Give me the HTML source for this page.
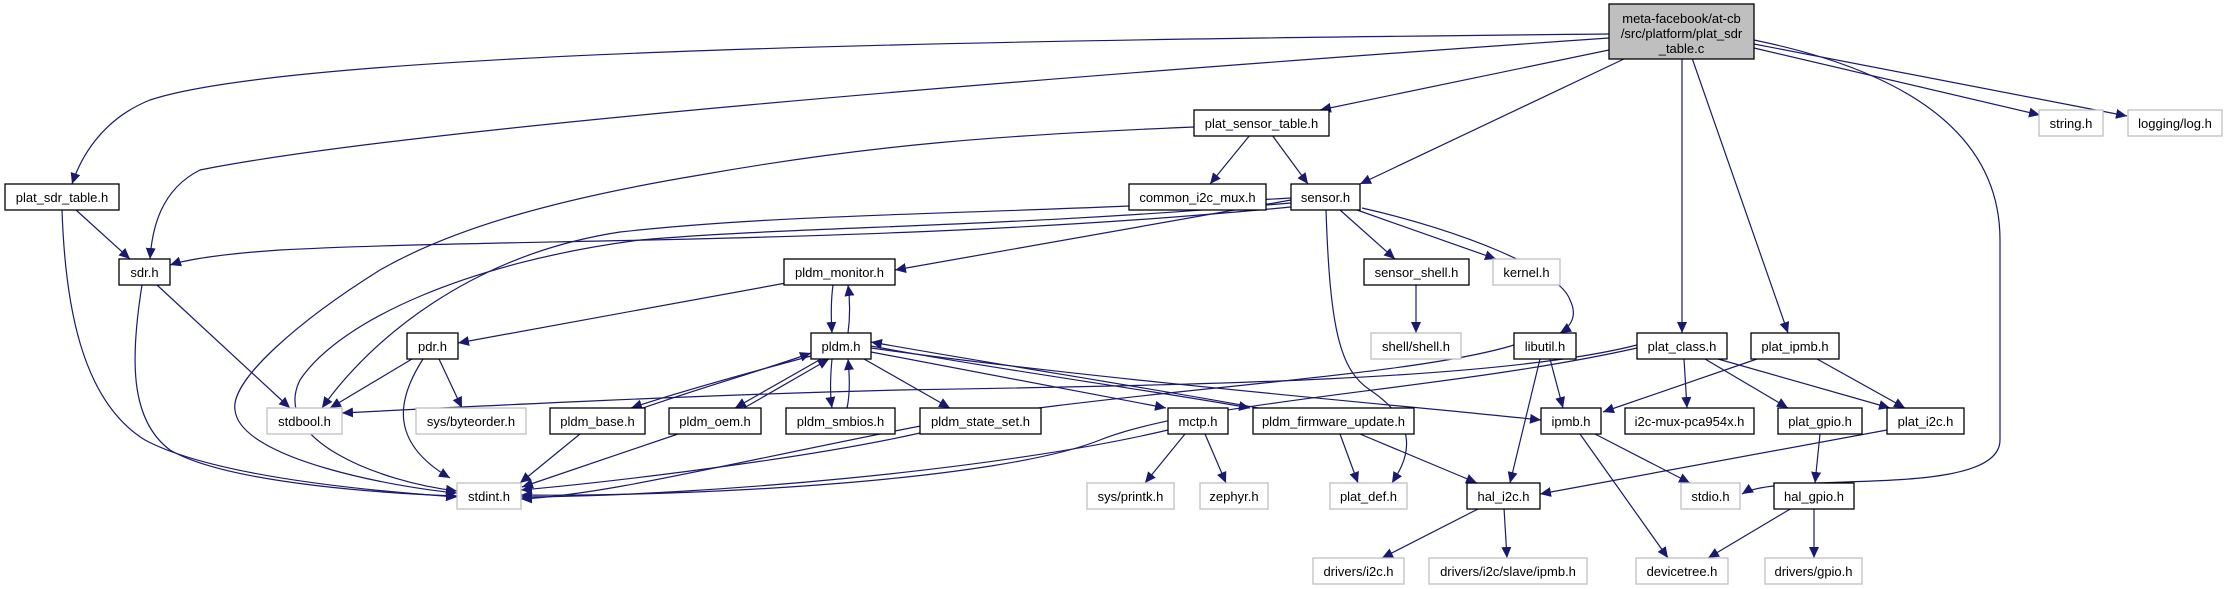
<!DOCTYPE html>
<html><head><meta charset="utf-8"><style>
html,body{margin:0;padding:0;background:#fff;width:2228px;height:589px;overflow:hidden}
svg text{font-family:"Liberation Sans",Arial,sans-serif;font-size:13px;fill:#000}
</style></head><body>
<svg width="2228" height="589" viewBox="0 0 2228 589" xmlns="http://www.w3.org/2000/svg">
<defs>
<marker id="a" markerUnits="userSpaceOnUse" markerWidth="12" markerHeight="10" refX="11" refY="5" orient="auto">
<path d="M0,0 L11,5 L0,10 z" fill="#191970"/>
</marker>
</defs>
<g fill="none" stroke="#191970" stroke-width="1.2" marker-end="url(#a)">
<!-- meta edges -->
<path d="M1609,34 C1000,40 300,50 150,100 C100,120 80,160 72,184"/>
<path d="M1609,38 C1000,80 400,130 200,170 C160,190 152,230 150,259"/>
<path d="M1609,50 L1320,110"/>
<path d="M1626,58 L1360,184"/>
<path d="M1682,58 L1682,333"/>
<path d="M1692,58 L1788,333"/>
<path d="M1754,48 L2040,115"/>
<path d="M1754,44 L2127,116"/>
<path d="M1754,40 C1900,70 2000,130 2000,240 L2000,440 C2000,500 1780,470 1742,494"/>
<!-- plat_sdr_table -->
<path d="M76,210 L130,259"/>
<path d="M62,210 C65,300 80,400 145,440 C220,480 400,493 457,497"/>
<!-- sdr -->
<path d="M142,285 C130,360 130,420 170,450 C230,485 400,494 457,496"/>
<path d="M157,285 L290,408"/>
<!-- plat_sensor_table -->
<path d="M1194,127 C1000,135 870,145 700,175 C550,200 450,230 380,270 C300,320 230,380 235,410 C240,460 400,488 457,493"/>
<path d="M1250,135 L1210,184"/>
<path d="M1272,135 L1308,184"/>
<!-- sensor -->
<path d="M1291,207 C900,245 500,238 280,250 C220,254 185,260 170,265"/>
<path d="M1291,200 L895,270"/>
<path d="M1291,198 C1000,215 800,212 620,232 C470,255 370,340 322,408"/>
<path d="M1291,203 C1000,228 800,226 640,240 C470,262 340,320 300,380 C270,440 380,482 457,491"/>
<path d="M1340,210 L1395,259"/>
<path d="M1357,210 L1496,259"/>
<path d="M1362,208 C1460,230 1560,270 1570,300 C1580,320 1565,330 1560,333"/>
<path d="M1326,210 C1330,330 1340,370 1370,390 C1430,430 1400,470 1392,483"/>
<!-- sensor_shell -->
<path d="M1416,285 L1416,333"/>
<!-- pldm_monitor / pldm -->
<path d="M833,285 C831,300 831,318 832,333"/>
<path d="M848,333 C850,318 850,300 848,285"/>
<path d="M786,283 L458,343"/>
<!-- pdr -->
<path d="M412,359 L330,408"/>
<path d="M423,359 C400,395 385,440 450,478"/>
<path d="M439,359 L462,408"/>
<!-- pldm -->
<path d="M811,356 C740,375 670,395 631,408"/>
<path d="M643,408 C700,388 770,368 811,353"/>
<path d="M821,359 L735,408"/>
<path d="M744,408 L829,359"/>
<path d="M832,359 C830,380 830,395 832,408"/>
<path d="M847,408 C850,395 850,380 848,359"/>
<path d="M864,359 L950,408"/>
<path d="M871,352 L1166,408"/>
<path d="M871,346 C1000,370 1150,390 1250,408"/>
<path d="M1258,408 C1150,388 1000,365 871,342"/>
<path d="M871,348 C1100,380 1400,405 1541,420"/>
<!-- pldm_base / oem / state_set -->
<path d="M580,434 L520,483"/>
<path d="M678,434 L522,487"/>
<path d="M920,433 C800,460 600,483 521,490"/>
<!-- mctp -->
<path d="M1168,430 C1000,470 700,496 521,497"/>
<path d="M1185,434 L1145,483"/>
<path d="M1205,434 L1226,483"/>
<!-- pldm_firmware_update -->
<path d="M1340,434 L1358,483"/>
<path d="M1360,434 L1477,483"/>
<!-- libutil -->
<path d="M1514,345 C1400,380 1100,390 900,430 C700,470 600,495 521,499"/>
<path d="M1540,359 L1510,483"/>
<path d="M1550,359 L1563,408"/>
<!-- plat_class -->
<path d="M1637,345 C1500,380 1200,385 900,390 C700,395 500,405 342,413"/>
<path d="M1637,348 C1450,390 1200,400 1100,440 C1000,480 700,497 521,495"/>
<path d="M1684,359 L1687,408"/>
<path d="M1705,359 L1788,408"/>
<path d="M1718,359 L1890,408"/>
<!-- plat_ipmb -->
<path d="M1757,359 L1603,412"/>
<path d="M1817,359 L1905,408"/>
<!-- ipmb -->
<path d="M1595,434 L1690,483"/>
<path d="M1580,434 L1668,558"/>
<!-- plat_gpio -->
<path d="M1820,434 L1815,483"/>
<!-- plat_i2c -->
<path d="M1887,430 L1540,494"/>
<!-- hal_i2c -->
<path d="M1480,508 L1382,558"/>
<path d="M1504,508 L1507,558"/>
<!-- hal_gpio -->
<path d="M1792,508 L1708,558"/>
<path d="M1814,508 L1814,558"/>
</g>
<g stroke-width="1.3">
<rect x="1609" y="4" width="145" height="55" fill="#bfbfbf" stroke="#000"/>
<text x="1681.5" y="23" text-anchor="middle">meta-facebook/at-cb</text>
<text x="1681.5" y="38" text-anchor="middle">/src/platform/plat_sdr</text>
<text x="1681.5" y="53" text-anchor="middle">_table.c</text>
<g fill="#fff" stroke="#000">
<rect x="5" y="184" width="114" height="26"/>
<rect x="119" y="259" width="51" height="26"/>
<rect x="784" y="259" width="111" height="26"/>
<rect x="407" y="333" width="51" height="26"/>
<rect x="811" y="333" width="60" height="26"/>
<rect x="550" y="408" width="95" height="26"/>
<rect x="669" y="408" width="92" height="26"/>
<rect x="786" y="408" width="109" height="26"/>
<rect x="920" y="408" width="121" height="26"/>
<rect x="1194" y="110" width="135" height="26"/>
<rect x="1129" y="184" width="137" height="26"/>
<rect x="1291" y="184" width="69" height="26"/>
<rect x="1364" y="259" width="105" height="26"/>
<rect x="1514" y="333" width="62" height="26"/>
<rect x="1637" y="333" width="90" height="26"/>
<rect x="1751" y="333" width="88" height="26"/>
<rect x="1168" y="408" width="60" height="26"/>
<rect x="1253" y="408" width="161" height="26"/>
<rect x="1541" y="408" width="60" height="26"/>
<rect x="1625" y="408" width="129" height="26"/>
<rect x="1778" y="408" width="84" height="26"/>
<rect x="1887" y="408" width="77" height="26"/>
<rect x="1467" y="483" width="73" height="26"/>
<rect x="1774" y="483" width="80" height="26"/>
</g>
<g fill="#fff" stroke="#bfbfbf">
<rect x="2039" y="110" width="64" height="26"/>
<rect x="2128" y="110" width="94" height="26"/>
<rect x="1493" y="259" width="67" height="26"/>
<rect x="1371" y="333" width="90" height="26"/>
<rect x="267" y="408" width="75" height="26"/>
<rect x="416" y="408" width="110" height="26"/>
<rect x="457" y="483" width="64" height="26"/>
<rect x="1087" y="483" width="87" height="26"/>
<rect x="1200" y="483" width="68" height="26"/>
<rect x="1330" y="483" width="77" height="26"/>
<rect x="1681" y="483" width="59" height="26"/>
<rect x="1313" y="558" width="91" height="26"/>
<rect x="1429" y="558" width="158" height="26"/>
<rect x="1636" y="558" width="92" height="26"/>
<rect x="1765" y="558" width="97" height="26"/>
</g>
</g>
<g text-anchor="middle">
<text x="62" y="202">plat_sdr_table.h</text>
<text x="144.5" y="277">sdr.h</text>
<text x="839.5" y="277">pldm_monitor.h</text>
<text x="432.5" y="351">pdr.h</text>
<text x="841" y="351">pldm.h</text>
<text x="597.5" y="426">pldm_base.h</text>
<text x="715" y="426">pldm_oem.h</text>
<text x="840.5" y="426">pldm_smbios.h</text>
<text x="980.5" y="426">pldm_state_set.h</text>
<text x="1261.5" y="128">plat_sensor_table.h</text>
<text x="1197.5" y="202">common_i2c_mux.h</text>
<text x="1325.5" y="202">sensor.h</text>
<text x="1416.5" y="277">sensor_shell.h</text>
<text x="1545" y="351">libutil.h</text>
<text x="1682" y="351">plat_class.h</text>
<text x="1795" y="351">plat_ipmb.h</text>
<text x="1198" y="426">mctp.h</text>
<text x="1333.5" y="426">pldm_firmware_update.h</text>
<text x="1571" y="426">ipmb.h</text>
<text x="1689.5" y="426">i2c-mux-pca954x.h</text>
<text x="1820" y="426">plat_gpio.h</text>
<text x="1925.5" y="426">plat_i2c.h</text>
<text x="1503.5" y="501">hal_i2c.h</text>
<text x="1814" y="501">hal_gpio.h</text>
<text x="2071" y="128">string.h</text>
<text x="2175" y="128">logging/log.h</text>
<text x="1526.5" y="277">kernel.h</text>
<text x="1416" y="351">shell/shell.h</text>
<text x="304.5" y="426">stdbool.h</text>
<text x="471" y="426">sys/byteorder.h</text>
<text x="489" y="501">stdint.h</text>
<text x="1130.5" y="501">sys/printk.h</text>
<text x="1234" y="501">zephyr.h</text>
<text x="1368.5" y="501">plat_def.h</text>
<text x="1710.5" y="501">stdio.h</text>
<text x="1358.5" y="576">drivers/i2c.h</text>
<text x="1508" y="576">drivers/i2c/slave/ipmb.h</text>
<text x="1682" y="576">devicetree.h</text>
<text x="1813.5" y="576">drivers/gpio.h</text>
</g>
</svg>
</body></html>
